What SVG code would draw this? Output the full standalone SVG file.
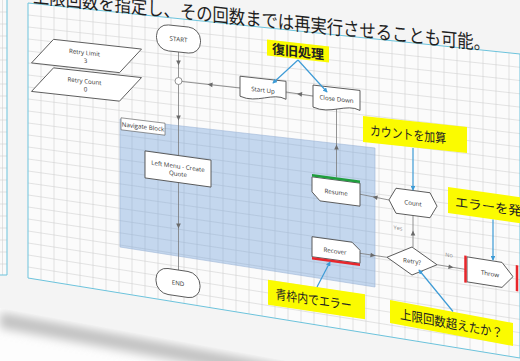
<svg xmlns="http://www.w3.org/2000/svg" xmlns:xlink="http://www.w3.org/1999/xlink" width="520" height="361" viewBox="0 0 520 361">
<style>
.nd{fill:#fff;stroke:#505050;stroke-width:0.9}
.t{font-family:"Open Sans","Liberation Sans",sans-serif;font-size:6.2px;fill:#333;text-anchor:middle;dominant-baseline:central}
.sm{font-family:"Open Sans","Liberation Sans",sans-serif;font-size:5.5px;fill:#888;text-anchor:middle;dominant-baseline:central}
.cn{stroke:#7a7a7a;stroke-width:0.8;fill:none}
.ah{fill:#6a6a6a}
.bl{stroke:#3d9bd6;stroke-width:1.2;fill:none;marker-end:url(#bm)}
.cb{fill:#fbfb00}
.jt{font-family:"Noto Sans CJK JP",sans-serif;font-size:13px;fill:#222;dominant-baseline:central}
.grid{stroke:#d2d2d2;stroke-width:0.6;fill:none}
</style>
<defs>
<marker id="bm" viewBox="0 0 6 6" refX="5" refY="3" markerWidth="4" markerHeight="4" orient="auto"><path d="M0,0 L6,3 L0,6 Z" fill="#3d9bd6"/></marker>
<path id="ah" d="M2.5,0 L-2.5,-2.3 L-2.5,2.3 Z"/>
<clipPath id="panel"><polygon points="28,3 520,54 520,358 28,278"/></clipPath>
<filter id="blur" x="-10%" y="-50%" width="120%" height="200%"><feGaussianBlur stdDeviation="5"/></filter>
</defs>

<!-- background & slide card -->
<rect x="0" y="0" width="520" height="361" fill="#fdfdfd"/>
<polygon points="0,312 520,408 520,424 0,328" fill="#c2c2c2" filter="url(#blur)"/>
<polygon points="0,0 520,0 520,404 0,308" fill="#f4f4f4"/>

<!-- left partial slide -->
<g id="left-strip">
<rect x="0" y="0" width="7" height="275" fill="#fafafa"/>
<path class="grid" d="M2.5 0 V275 M0 12 H7 M0 24 H7 M0 36 H7 M0 48 H7 M0 60 H7 M0 72 H7 M0 84 H7 M0 96 H7 M0 108 H7 M0 120 H7 M0 132 H7 M0 144 H7 M0 156 H7 M0 168 H7 M0 180 H7 M0 192 H7 M0 204 H7 M0 216 H7 M0 228 H7 M0 240 H7 M0 252 H7 M0 264 H7"/>
<path d="M7 0 V275 H0" fill="none" stroke="#6cc3dc" stroke-width="1"/>
</g>

<!-- main panel -->
<g id="panel-bg">
<polygon points="28,3 520,54 520,358 28,278" fill="#fbfbfb"/>
<g clip-path="url(#panel)">
<path class="grid" d="M28 15 L520 67.3 M28 27 L520 80.5 M28 39 L520 93.8 M28 51 L520 107.1 M28 63 L520 120.4 M28 75 L520 133.6 M28 87 L520 146.9 M28 99 L520 160.2 M28 111 L520 173.4 M28 123 L520 186.7 M28 135 L520 200 M28 147 L520 213.2 M28 159 L520 226.5 M28 171 L520 239.8 M28 183 L520 253 M28 195 L520 266.3 M28 207 L520 279.6 M28 219 L520 292.9 M28 231 L520 306.1 M28 243 L520 319.4 M28 255 L520 332.7 M28 267 L520 345.9"/>
<path class="grid" d="M41 0V361 M54 0V361 M67 0V361 M80 0V361 M93 0V361 M106 0V361 M119 0V361 M132 0V361 M145 0V361 M158 0V361 M171 0V361 M184 0V361 M197 0V361 M210 0V361 M223 0V361 M236 0V361 M249 0V361 M262 0V361 M275 0V361 M288 0V361 M301 0V361 M314 0V361 M327 0V361 M340 0V361 M353 0V361 M366 0V361 M379 0V361 M392 0V361 M405 0V361 M418 0V361 M431 0V361 M444 0V361 M457 0V361 M470 0V361 M483 0V361 M496 0V361 M509 0V361"/>
</g>
<polygon points="28,3 520,54 520,358 28,278" fill="none" stroke="#6cc3dc" stroke-width="1"/>
</g>

<text id="title" transform="translate(33,2.5) skewY(6)" font-family="'Noto Sans CJK JP',sans-serif" font-size="19" fill="#1e1e1e" textLength="457" lengthAdjust="spacingAndGlyphs">上限回数を指定し、その回数までは再実行させることも可能。</text>

<!-- Navigate block -->
<g id="navigate-block">
<polygon points="120,119 375,148 375,287 120,247" fill="#78a5dc" fill-opacity="0.42" stroke="#9fb7d6" stroke-width="0.6"/>
<g transform="translate(143,126.5) skewY(7)">
<rect x="-22" y="-6" width="44" height="12" fill="#fff" stroke="#555" stroke-width="0.6"/>
<text class="t" x="0" y="0" font-size="5.5">Navigate Block</text>
</g>
</g>

<!-- connectors -->
<g id="connectors">
<path class="cn" d="M178.5 52 V270"/>
<path class="cn" d="M240 88 L182 81.5"/>
<path class="cn" d="M313 96 L286 92"/>
<path class="cn" d="M336.5 177.5 V109"/>
<path class="cn" d="M389 200 L360 194.2"/>
<path class="cn" d="M413 247 V215.5"/>
<path class="cn" d="M360 253.3 L387 257.3"/>
<path class="cn" d="M437 264.7 L465.5 269.4"/>
<circle cx="178.5" cy="81" r="3.5" fill="#fff" stroke="#7a7a7a" stroke-width="0.8"/>
<use class="ah" href="#ah" transform="translate(178.5,63) rotate(90)"/>
<use class="ah" href="#ah" transform="translate(178.5,118) rotate(90)"/>
<use class="ah" href="#ah" transform="translate(178.5,226) rotate(90)"/>
<use class="ah" href="#ah" transform="translate(210,84.6) rotate(186.4)"/>
<use class="ah" href="#ah" transform="translate(299.5,94) rotate(188.4)"/>
<use class="ah" href="#ah" transform="translate(336.5,147) rotate(-90)"/>
<use class="ah" href="#ah" transform="translate(375,197.2) rotate(191)"/>
<use class="ah" href="#ah" transform="translate(413,233) rotate(-90)"/>
<use class="ah" href="#ah" transform="translate(373,255.4) rotate(8.5)"/>
<use class="ah" href="#ah" transform="translate(451,267.1) rotate(9.4)"/>
<text class="sm" transform="translate(398,228) skewY(8)">Yes</text>
<text class="sm" transform="translate(449,255) skewY(9)">No</text>
</g>

<!-- nodes -->
<g id="retry-limit" transform="translate(86.5,56) skewY(6.3)">
<polygon class="nd" points="-33,-13 55,-13 33,13 -55,13"/>
<text class="t" x="-2" y="-3.5">Retry Limit</text>
<text class="t" x="-1" y="4.5">3</text>
</g>
<g id="retry-count" transform="translate(86.5,84.5) skewY(6.3)">
<polygon class="nd" points="-33,-13 55,-13 33,13 -55,13"/>
<text class="t" x="-2" y="-3.5">Retry Count</text>
<text class="t" x="-1" y="4.5">0</text>
</g>
<g id="start" transform="translate(178.5,39) skewY(6)">
<rect class="nd" x="-22" y="-13" width="44" height="26" rx="12"/>
<text class="t" x="0" y="0">START</text>
</g>
<g id="start-up" transform="translate(263,88.75) skewY(6.3)">
<path class="nd" d="M-23,-10 H23 V8 C10,2 -6,16 -23,10 Z"/>
<text class="t" x="0" y="1">Start Up</text>
</g>
<g id="close-down" transform="translate(336.5,98.75) skewY(6.5)">
<path class="nd" d="M-23.5,-11 H23.5 V9 C10,3 -6,17 -23.5,11 Z"/>
<text class="t" x="0" y="0">Close Down</text>
</g>
<g id="left-menu" transform="translate(178,169) skewY(7.9)">
<rect class="nd" x="-33" y="-13.5" width="66" height="27"/>
<text class="t" x="0" y="-3">Left Menu - Create</text>
<text class="t" x="0" y="4.5">Quote</text>
</g>
<g id="resume" transform="translate(336,191) skewY(7.5)">
<path class="nd" d="M-24,-11 H24 V12 H-16 L-24,4 Z"/>
<line x1="-24" y1="-12.5" x2="24" y2="-12.5" stroke="#1f9e3c" stroke-width="2.5"/>
<text class="t" x="0" y="1">Resume</text>
</g>
<g id="recover" transform="translate(336,250) skewY(7.8)">
<path class="nd" d="M-24,-10 H16 L24,-3 V10 H-24 Z"/>
<line x1="-24" y1="11.5" x2="24" y2="11.5" stroke="#e8262b" stroke-width="2.5"/>
<text class="t" x="-1" y="1">Recover</text>
</g>
<g id="count" transform="translate(413,203) skewY(7.5)">
<polygon class="nd" points="-24,0 -17,-12.5 17,-12.5 24,0 17,12.5 -17,12.5"/>
<text class="t" x="0" y="0">Count</text>
</g>
<g id="retry" transform="translate(412,261) skewY(8.5)">
<polygon class="nd" points="-25,0 0,-14 25,0 0,14"/>
<text class="t" x="0" y="0">Retry?</text>
</g>
<g id="throw" transform="translate(490,273) skewY(9)">
<polygon class="nd" points="-23,-12.5 12,-12.5 23,0 12,12.5 -23,12.5"/>
<line x1="-24.5" y1="-13.5" x2="-24.5" y2="13.5" stroke="#e8262b" stroke-width="2.5"/>
<line x1="27" y1="-12" x2="27" y2="14" stroke="#e8262b" stroke-width="2.5"/>
<text class="t" x="0" y="0.5" font-size="6.5">Throw</text>
</g>
<g id="end" transform="translate(178,283) skewY(8.5)">
<rect class="nd" x="-22" y="-13" width="44" height="26" rx="12"/>
<text class="t" x="0" y="0">END</text>
</g>

<!-- callouts -->
<g id="callout-recovery" transform="translate(298,51) skewY(6.3)">
<rect class="cb" x="-31" y="-8" width="62" height="16"/>
<text class="jt" x="0" y="0" text-anchor="middle" font-weight="bold" font-size="12.5">復旧処理</text>
</g>
<g id="callout-count" transform="translate(415,134.5) skewY(6)">
<rect class="cb" x="-52" y="-13" width="104" height="26"/>
<text class="jt" x="-45" y="0" textLength="76" lengthAdjust="spacingAndGlyphs">カウントを加算</text>
</g>
<g id="callout-error" transform="translate(490,206) skewY(8)">
<rect class="cb" x="-42" y="-13" width="84" height="26"/>
<text class="jt" x="-35" y="0" textLength="80" lengthAdjust="spacingAndGlyphs">エラーを発生</text>
</g>
<g id="callout-inblock" transform="translate(316.5,299.5) skewY(8.5)">
<rect class="cb" x="-48.5" y="-12.5" width="97" height="25"/>
<text class="jt" x="-41" y="0" textLength="76" lengthAdjust="spacingAndGlyphs">青枠内でエラー</text>
</g>
<g id="callout-limit" transform="translate(451.5,323) skewY(10.6)">
<rect class="cb" x="-61.5" y="-11.5" width="123" height="23"/>
<text class="jt" x="-51.5" y="0" textLength="103" lengthAdjust="spacingAndGlyphs">上限回数超えたか？</text>
</g>

<g id="callout-connectors">
<path class="bl" d="M298 60 L273 83"/>
<path class="bl" d="M298 60 L327 92"/>
<path class="bl" d="M413 148 V190"/>
<path class="bl" d="M493 219.5 V260"/>
<path class="bl" d="M317 287 L330 262"/>
<path class="bl" d="M453 311.5 L419 270"/>
</g>
</svg>
